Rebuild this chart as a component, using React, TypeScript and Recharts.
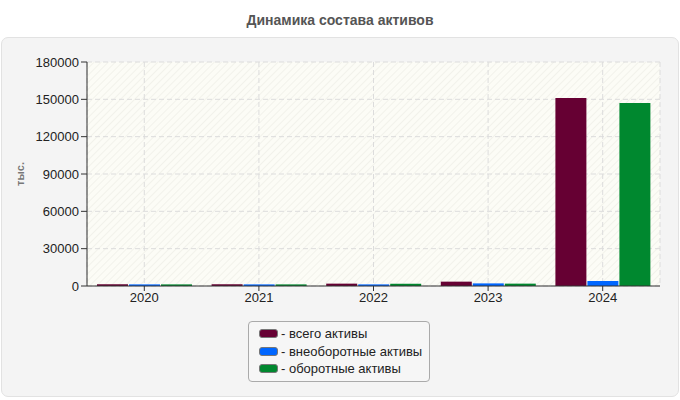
import React from "react";
import {
  BarChart,
  Bar,
  XAxis,
  YAxis,
  CartesianGrid,
} from "recharts";

const years = ["2020", "2021", "2022", "2023", "2024"];
const totalAssets = [1400, 1400, 1900, 3500, 151000];
const nonCurrentAssets = [1300, 1300, 1300, 2100, 4000];
const currentAssets = [1300, 1300, 1800, 1900, 147000];
const yTicks = [0, 30000, 60000, 90000, 120000, 150000, 180000];
const seriesNames = ["- всего активы", "- внеоборотные активы", "- оборотные активы"];
const seriesColors = ["#660033", "#0066ff", "#00882f"];

const data = years.map((year, i) => ({
  year,
  total: totalAssets[i],
  nonCurrent: nonCurrentAssets[i],
  current: currentAssets[i],
}));

const keys = ["total", "nonCurrent", "current"];

// rotated unit label left of the y axis
const UnitLabel = (props: any) => {
  const vb = props.viewBox || {};
  const cx = 20;
  const cy = (vb.y || 0) + (vb.height || 0) / 2;
  return (
    <text
      x={cx}
      y={cy}
      transform={`rotate(-90 ${cx} ${cy})`}
      textAnchor="middle"
      dominantBaseline="central"
      fill="#777"
      fontSize={11}
      fontWeight="bold"
    >
      тыс.
    </text>
  );
};

const App: React.FC = () => {
  return (
    <div
      style={{
        position: "absolute",
        left: 0,
        top: 0,
        width: 680,
        height: 400,
        background: "#fff",
        fontFamily: "'Liberation Sans', Arial, sans-serif",
      }}
    >
      <div
        style={{
          position: "absolute",
          top: 12,
          left: 0,
          width: 680,
          textAlign: "center",
          fontSize: 14,
          fontWeight: "bold",
          color: "#555",
        }}
      >
        Динамика состава активов
      </div>
      <div
        style={{
          position: "absolute",
          left: 1,
          top: 37,
          width: 676,
          height: 358,
          background: "#f4f4f4",
          border: "1px solid #e2e2e2",
          borderRadius: 7,
        }}
      />
      <div style={{ position: "absolute", left: 0, top: 0 }}>
        <BarChart
          width={680}
          height={400}
          data={data}
          margin={{ top: 62, right: 20, bottom: 84, left: 0 }}
          barCategoryGap={10}
          barGap={1}
        >
          <defs>
            <pattern
              id="hatch"
              width="5"
              height="5"
              patternUnits="userSpaceOnUse"
              patternTransform="rotate(45)"
            >
              <rect width="5" height="5" fill="#fcfcf6" />
              <line x1="0" y1="0" x2="0" y2="5" stroke="#efefe8" strokeWidth="1.5" />
            </pattern>
          </defs>
          <CartesianGrid
            fill="url(#hatch)"
            stroke="#dcdcdc"
            strokeDasharray="5 3"
          />
          <XAxis
            dataKey="year"
            tick={{ fill: "#222", fontSize: 13 }}
            tickSize={5}
            axisLine={{ stroke: "#333" }}
            tickLine={{ stroke: "#333" }}
            height={30}
          />
          <YAxis
            width={87}
            domain={[0, 180000]}
            ticks={yTicks}
            interval={0}
            tick={{ fill: "#222", fontSize: 13 }}
            tickSize={6}
            axisLine={{ stroke: "#333" }}
            tickLine={{ stroke: "#333" }}
            label={<UnitLabel />}
          />
          {keys.map((k, i) => (
            <Bar
              key={k}
              dataKey={k}
              fill={seriesColors[i]}
              isAnimationActive={false}
            />
          ))}
        </BarChart>
      </div>
      <div
        style={{
          position: "absolute",
          left: 248,
          top: 321,
          width: 182,
          height: 61,
          border: "1px solid #aaa",
          borderRadius: 4,
          background: "#f6f6f6",
          boxSizing: "border-box",
          padding: "3px 0 0 10px",
        }}
      >
        {seriesNames.map((name, i) => (
          <div
            key={name}
            style={{
              display: "flex",
              alignItems: "center",
              height: 17.5,
              fontSize: 13,
              color: "#222",
            }}
          >
            <span
              style={{
                display: "inline-block",
                width: 17,
                height: 7,
                background: seriesColors[i],
                border: "1px solid #777",
                borderRadius: 3,
                marginRight: 3,
              }}
            />
            {name}
          </div>
        ))}
      </div>
    </div>
  );
};

export default App;
